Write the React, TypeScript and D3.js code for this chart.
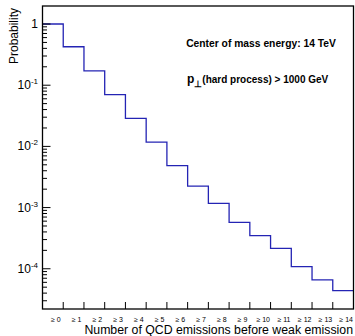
import React from "react";
import * as d3 from "d3";

const categories: string[] = ["0","1","2","3","4","5","6","7","8","9","10","11","12","13","14"];
const probabilities: number[] = [1.0, 0.425, 0.172, 0.070, 0.0288, 0.0117, 0.00484, 0.00225, 0.00117, 0.000575, 0.000347, 0.000216, 0.000108, 0.0000656, 0.0000438];
const yTickValues: number[] = [1, 0.1, 0.01, 0.001, 0.0001];
const yTickExponents: string[] = ["", "-1", "-2", "-3", "-4"];

const W = 355, H = 336;
const L = 42.5, R = 353.5, T = 6, B = 309;
const FONT = "'Liberation Sans', Arial, Helvetica, sans-serif";
const BLUE = "#2424b4";

export default function App() {
  const x = d3.scaleLinear().domain([0, categories.length]).range([L, R]);
  const y = d3.scaleLog().domain([2.2e-5, 1.97]).range([B, T]);

  const pts: [number, number][] = [];
  probabilities.forEach((v, i) => {
    pts.push([x(i), y(v)]);
    pts.push([x(i + 1), y(v)]);
  });
  const line = d3.line<[number, number]>().x(d => d[0]).y(d => d[1]);

  const minor: number[] = [];
  for (let e = -5; e <= 0; e++) {
    for (let m = 2; m <= 9; m++) {
      const v = m * Math.pow(10, e);
      if (v > 2.2e-5 && v < 1.97) minor.push(v);
    }
  }

  return (
    <svg width={W} height={H} style={{ position: "absolute", left: 0, top: 0, background: "#fff" }} fontFamily={FONT}>
      <rect x={0} y={0} width={W} height={H} fill="#fff" />
      <path d={line(pts) || ""} fill="none" stroke={BLUE} strokeWidth={1.3} />
      {/* frame */}
      <rect x={L} y={T} width={R - L} height={B - T} fill="none" stroke="#000" strokeWidth={1.3} />
      {/* x ticks */}
      {d3.range(1, categories.length).map(i => (
        <line key={"xt" + i} x1={x(i)} x2={x(i)} y1={B} y2={B - 7} stroke="#000" strokeWidth={1} />
      ))}
      {/* x tick labels */}
      {categories.map((c, i) => (
        <text key={"xl" + i} x={x(i + 0.5) + 3} y={322} fontSize={7} textAnchor="middle" fill="#000">
          ≥ {c}
        </text>
      ))}
      {/* y major ticks */}
      {yTickValues.map((v, i) => (
        <g key={"yt" + i}>
          <line x1={L} x2={L + 8} y1={y(v)} y2={y(v)} stroke="#000" strokeWidth={1} />
          {i === 0 ? (
            <text x={38} y={y(v) + 4} fontSize={12} textAnchor="end">1</text>
          ) : (
            <text x={38} y={y(v) + 4} fontSize={12} textAnchor="end">
              10<tspan fontSize={8} dy={-5}>{yTickExponents[i]}</tspan>
            </text>
          )}
        </g>
      ))}
      {minor.map((v, i) => (
        <line key={"ym" + i} x1={L} x2={L + 4.5} y1={y(v)} y2={y(v)} stroke="#000" strokeWidth={1} />
      ))}
      {/* axis titles */}
      <text transform="translate(18,8) rotate(-90)" fontSize={12} textAnchor="end">Probability</text>
      <text x={353} y={334} fontSize={12.3} textAnchor="end">Number of QCD emissions before weak emission</text>
      {/* annotations */}
      <text x={261} y={47} fontSize={10.3} fontWeight="bold" textAnchor="middle">Center of mass energy: 14 TeV</text>
      <text x={187} y={83} fontWeight="bold">
        <tspan fontSize={12}>p</tspan>
        <tspan fontSize={9} dy={4}>⊥</tspan>
        <tspan fontSize={10} dy={-4}>(hard process) &gt; 1000 GeV</tspan>
      </text>
    </svg>
  );
}
